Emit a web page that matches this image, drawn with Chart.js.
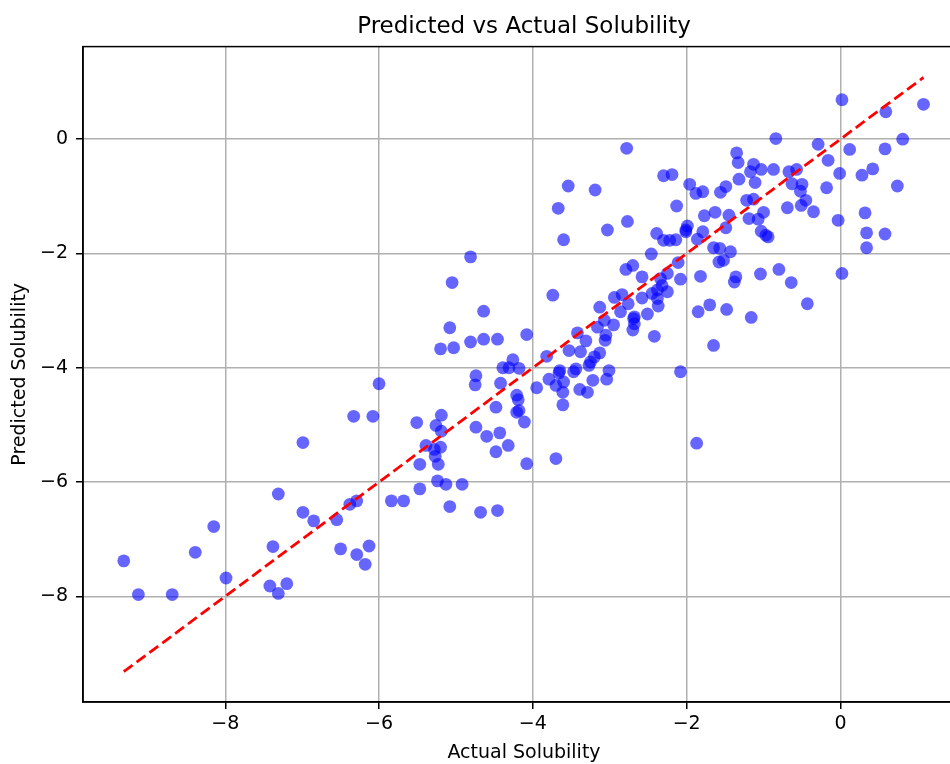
<!DOCTYPE html>
<html>
<head>
<meta charset="utf-8">
<title>Predicted vs Actual Solubility</title>
<script src="https://cdn.jsdelivr.net/npm/chart.js@4.4.1/dist/chart.umd.min.js"></script>
<style>
  html, body { margin: 0; padding: 0; background: #fff; overflow: hidden; }
  #wrap { width: 980px; height: 764px; }
</style>
</head>
<body>
<div id="wrap"><canvas id="chart" width="980" height="764"></canvas></div>
<script>
// values
const actual = [
  -9.32, -9.13, -8.69, -8.39, -8.15, -7.99, -7.42, -7.38, -7.31, -7.31,
  -7.20, -6.99, -6.99, -6.85, -6.55, -6.50, -6.38, -6.29, -6.33, -6.29,
  -6.18, -6.13, -6.08, -6.00, -5.84, -5.68, -5.51, -5.47, -5.47, -5.39,
  -5.28, -5.20, -5.27, -5.23, -5.26, -5.19, -5.19, -5.24, -5.13, -5.08,
  -4.92, -4.74, -4.60, -4.68, -4.46, -4.48, -4.32, -4.43, -4.08,
  -3.70, -4.81, -5.05, -4.64, -5.08, -5.20, -5.03, -4.81, -4.64, -4.46,
  -4.08, -3.82, -4.26, -4.39, -4.31, -4.18, -4.74, -4.75, -4.42,
  -4.21, -4.19, -4.18, -4.21, -4.11, -4.48, -3.74, -3.54,
  -3.19, -3.67, -3.60, -3.03, -2.77, -2.78, -2.30, -2.19, -2.13, -1.96,
  -2.39, -2.30, -2.22, -2.14, -2.01, -2.46, -2.79, -2.70, -2.11, -2.58,
  -2.34, -2.25, -2.08, -2.94, -2.84, -2.76, -2.58, -2.45, -2.38, -2.32,
  -2.25, -2.38, -2.37, -3.13, -2.86, -2.68, -2.51, -2.69, -2.68, -2.70,
  -2.42, -3.07, -2.95, -3.16, -3.05, -3.06, -3.31, -3.42, -3.53, -3.38,
  -3.13, -3.25, -3.20, -3.27, -3.65, -3.66, -3.44, -3.47, -3.01, -3.04,
  -3.22, -3.79, -3.70, -3.60, -3.61, -3.39, -3.29, -3.95, -3.61, -2.08,
  -1.65, -1.87, -0.84, -1.35, -1.33, -1.13, -1.17, -1.03, -0.87, -0.67,
  -0.57, -1.32, -1.11, -1.88, -1.79, -1.56, -1.49, -0.63, -0.50, -0.52,
  -1.22, -1.13, -0.51, -0.45, -0.69, -1.77, -1.63, -1.45, -1.19, -1.07,
  -1.00, -1.49, -1.99, -2.01, -1.79, -1.86, -1.03, -0.97, -0.94, -1.65,
  -1.57, -1.43, -1.58, -1.52, -1.82, -1.36, -1.38, -1.04, -0.80, -0.64,
  -1.70, -1.85, -1.48, -1.16, -0.43, 0.02, 1.08, 0.59, 0.81, -0.29,
  0.12, 0.58, -0.16, -0.01, 0.28, 0.42, -0.18, 0.74, -0.35, -0.03,
  0.32, 0.34, 0.58, 0.34, 0.02
];
const predicted = [
  -7.38, -7.97, -7.97, -7.23, -6.78, -7.68, -7.82, -7.13, -7.95, -6.21,
  -7.78, -5.31, -6.53, -6.68, -6.66, -7.17, -6.39, -6.33, -4.85, -7.27,
  -7.44, -7.12, -4.85, -4.28, -6.33, -6.33, -4.96, -6.12, -5.69, -5.36,
  -5.43, -5.39, -5.55, -5.69, -5.01, -5.11, -4.83, -5.98, -6.04, -6.43,
  -6.04, -5.04, -5.20, -6.53, -6.50, -5.47, -5.36, -5.14, -5.68,
  -5.59, -2.06, -2.51, -3.01, -3.30, -3.67, -3.65, -3.55, -3.50, -3.50,
  -3.42, -3.80, -3.86, -4.00, -4.00, -4.01, -4.14, -4.30, -4.27,
  -4.48, -4.56, -4.75, -4.78, -4.95, -4.69, -2.73, -0.82,
  -0.89, -1.21, -1.76, -1.59, -1.44, -0.16, -0.64, -0.62, -1.17, -0.79,
  -1.65, -1.77, -1.77, -1.76, -1.59, -2.01, -2.28, -2.21, -2.16, -2.41,
  -2.44, -2.35, -2.45, -2.77, -2.72, -2.88, -2.78, -2.70, -2.64, -2.56,
  -2.67, -2.79, -2.92, -2.94, -3.02, -3.11, -3.06, -3.14, -3.23, -3.34,
  -3.45, -3.17, -3.25, -3.29, -3.43, -3.52, -3.53, -3.39, -3.70, -3.72,
  -3.74, -3.90, -3.81, -3.96, -4.05, -4.09, -4.02, -4.07, -4.05, -4.20,
  -4.22, -4.20, -4.31, -4.25, -4.43, -4.38, -4.43, -4.35, -4.65, -4.07,
  -3.61, -5.32, 0.01, -0.24, -0.41, -0.44, -0.57, -0.53, -0.53, -0.57,
  -0.53, -0.70, -0.76, -0.95, -0.92, -0.93, -0.83, -0.78, -0.79, -0.91,
  -1.07, -1.05, -1.16, -1.07, -1.20, -1.34, -1.28, -1.33, -1.39, -1.40,
  -1.28, -1.55, -1.52, -1.62, -1.62, -1.75, -1.61, -1.68, -1.71, -1.90,
  -1.91, -1.97, -2.15, -2.12, -2.40, -2.41, -2.50, -2.36, -2.28, -2.51,
  -2.90, -3.02, -2.98, -3.12, -2.88, 0.69, 0.61, 0.48, 0.00, -0.09,
  -0.18, -0.17, -0.37, -0.60, -0.63, -0.52, -0.85, -0.82, -1.27, -1.42,
  -1.29, -1.64, -1.66, -1.90, -2.35
];
const xTicks = [-8, -6, -4, -2, 0];
const yTicks = [-8, -6, -4, -2, 0];

const FONT = "'DejaVu Sans', sans-serif";
const minus = (v) => (v < 0 ? "\u2212" + Math.abs(v) : String(v));

const points = actual.map((x, i) => ({ x, y: predicted[i] }));
const lo = Math.min(...actual);
const hi = Math.max(...actual);

// matplotlib-style box round the axes
const frame = {
  id: "frame",
  afterDraw(chart) {
    const { ctx, chartArea: a } = chart;
    ctx.save();
    ctx.strokeStyle = "#000";
    ctx.lineWidth = 1.5;
    ctx.strokeRect(a.left, a.top, a.right - a.left, a.bottom - a.top);
    ctx.restore();
  },
};

new Chart(document.getElementById("chart"), {
  type: "scatter",
  data: {
    datasets: [
      {
        data: [{ x: lo, y: lo }, { x: hi, y: hi }],
        showLine: true,
        borderColor: "#ff0000",
        borderWidth: 2.8,
        borderDash: [11, 5],
        pointRadius: 0,
        fill: false,
        order: 0,
      },
      {
        data: points,
        pointRadius: 6.4,
        pointBackgroundColor: "rgba(0,0,255,0.6)",
        pointBorderWidth: 0,
        pointHoverRadius: 6.4,
        order: 1,
      },
    ],
  },
  options: {
    responsive: false,
    animation: false,
    devicePixelRatio: 1,
    events: [],
    layout: { padding: { left: 0, right: 15, top: 0, bottom: 0 } },
    plugins: {
      legend: { display: false },
      tooltip: { enabled: false },
      title: {
        display: true,
        text: "Predicted vs Actual Solubility",
        fullSize: false,
        color: "#000",
        font: { family: FONT, size: 23, weight: "normal" },
        padding: { top: 13, bottom: 6 },
      },
    },
    scales: {
      x: {
        type: "linear",
        min: -9.85,
        max: 1.62,
        afterBuildTicks: (s) => { s.ticks = xTicks.map((v) => ({ value: v })); },
        afterFit: (s) => { s.height = 62; },
        ticks: { callback: minus, color: "#000", padding: 4, font: { family: FONT, size: 19 } },
        grid: { color: "#b0b0b0", lineWidth: 1.5, tickColor: "#000", tickLength: 7, tickWidth: 1.5 },
        border: { display: true, color: "#000", width: 1.5 },
        title: {
          display: true,
          text: "Actual Solubility",
          color: "#000",
          font: { family: FONT, size: 19 },
          padding: { top: 0, bottom: 0 },
        },
      },
      y: {
        type: "linear",
        min: -9.85,
        max: 1.62,
        afterBuildTicks: (s) => { s.ticks = yTicks.map((v) => ({ value: v })); },
        afterFit: (s) => { s.width = 83; },
        ticks: { callback: minus, color: "#000", padding: 8, font: { family: FONT, size: 19 } },
        grid: { color: "#b0b0b0", lineWidth: 1.5, tickColor: "#000", tickLength: 7, tickWidth: 1.5 },
        border: { display: true, color: "#000", width: 1.5 },
        title: {
          display: true,
          text: "Predicted Solubility",
          color: "#000",
          font: { family: FONT, size: 19 },
          padding: { top: 9, bottom: 0 },
        },
      },
    },
  },
  plugins: [frame],
});
</script>
</body>
</html>
